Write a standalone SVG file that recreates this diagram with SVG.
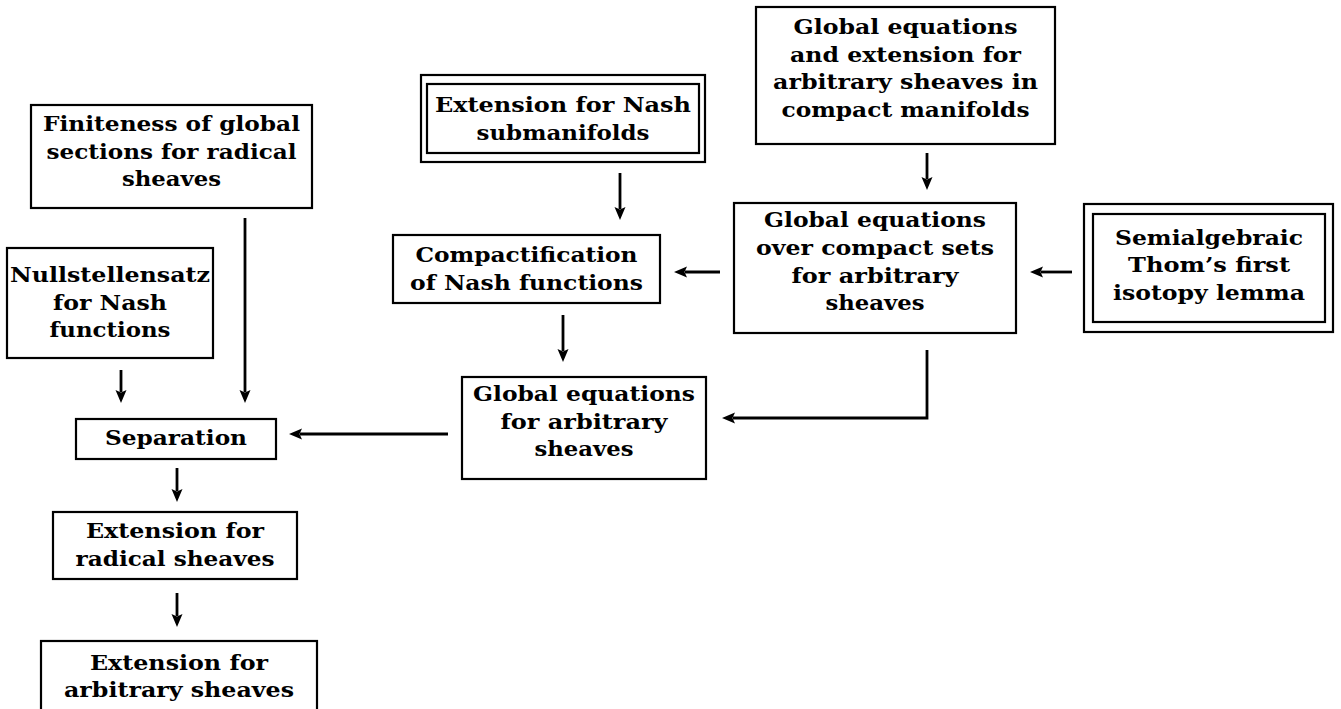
<svg xmlns="http://www.w3.org/2000/svg" width="1341" height="709" viewBox="0 0 1341 709">
<style>
.box{fill:#fff;stroke:#000;stroke-width:2.2}
.t{font-family:"DejaVu Serif","Liberation Serif",serif;font-weight:bold;font-size:20px;fill:#000;text-anchor:middle}
.c{fill:none;stroke:#000;stroke-width:2.8}
</style>
<defs>
<marker id="ah" markerUnits="userSpaceOnUse" markerWidth="14" markerHeight="12" viewBox="0 0 14 12" refX="2" refY="6" orient="auto">
<path d="M0,0.5 L13,6 L0,11.5 L2.5,6 z" fill="#000"/>
</marker>
</defs>
<rect width="1341" height="709" fill="#fff"/>
<g id="finiteness">
<rect class="box" x="31" y="105" width="281" height="103"/>
<text class="t" x="171.5" y="131" textLength="257" lengthAdjust="spacingAndGlyphs">Finiteness of global</text>
<text class="t" x="171.5" y="158.5" textLength="250" lengthAdjust="spacingAndGlyphs">sections for radical</text>
<text class="t" x="171.5" y="186" textLength="99" lengthAdjust="spacingAndGlyphs">sheaves</text>
</g>
<g id="nullstellensatz">
<rect class="box" x="7" y="248" width="206" height="110"/>
<text class="t" x="110" y="282" textLength="200" lengthAdjust="spacingAndGlyphs">Nullstellensatz</text>
<text class="t" x="110" y="309.5" textLength="114" lengthAdjust="spacingAndGlyphs">for Nash</text>
<text class="t" x="110" y="337" textLength="121" lengthAdjust="spacingAndGlyphs">functions</text>
</g>
<g id="separation">
<rect class="box" x="76" y="419" width="200" height="40"/>
<text class="t" x="176" y="445" textLength="142" lengthAdjust="spacingAndGlyphs">Separation</text>
</g>
<g id="extrad">
<rect class="box" x="53" y="512" width="244" height="67"/>
<text class="t" x="175" y="538" textLength="178" lengthAdjust="spacingAndGlyphs">Extension for</text>
<text class="t" x="175" y="566" textLength="199" lengthAdjust="spacingAndGlyphs">radical sheaves</text>
</g>
<g id="extarb">
<rect class="box" x="41" y="641" width="276" height="78"/>
<text class="t" x="179" y="670" textLength="178" lengthAdjust="spacingAndGlyphs">Extension for</text>
<text class="t" x="179" y="697" textLength="230" lengthAdjust="spacingAndGlyphs">arbitrary sheaves</text>
</g>
<g id="extnash">
<rect class="box" x="421" y="75" width="284" height="87"/>
<rect class="box" x="427" y="84" width="272" height="69"/>
<text class="t" x="563" y="112" textLength="256" lengthAdjust="spacingAndGlyphs">Extension for Nash</text>
<text class="t" x="563" y="140" textLength="173" lengthAdjust="spacingAndGlyphs">submanifolds</text>
</g>
<g id="compactification">
<rect class="box" x="393" y="235" width="267" height="68"/>
<text class="t" x="526.5" y="262" textLength="222" lengthAdjust="spacingAndGlyphs">Compactification</text>
<text class="t" x="526.5" y="290" textLength="233" lengthAdjust="spacingAndGlyphs">of Nash functions</text>
</g>
<g id="globaltop">
<rect class="box" x="756" y="7" width="299" height="137"/>
<text class="t" x="905.5" y="34" textLength="224" lengthAdjust="spacingAndGlyphs">Global equations</text>
<text class="t" x="905.5" y="61.5" textLength="231" lengthAdjust="spacingAndGlyphs">and extension for</text>
<text class="t" x="905.5" y="89" textLength="265" lengthAdjust="spacingAndGlyphs">arbitrary sheaves in</text>
<text class="t" x="905.5" y="116.5" textLength="248" lengthAdjust="spacingAndGlyphs">compact manifolds</text>
</g>
<g id="globalcompact">
<rect class="box" x="734" y="203" width="282" height="130"/>
<text class="t" x="875" y="227" textLength="222" lengthAdjust="spacingAndGlyphs">Global equations</text>
<text class="t" x="875" y="255" textLength="238" lengthAdjust="spacingAndGlyphs">over compact sets</text>
<text class="t" x="875" y="283" textLength="167" lengthAdjust="spacingAndGlyphs">for arbitrary</text>
<text class="t" x="875" y="310" textLength="99" lengthAdjust="spacingAndGlyphs">sheaves</text>
</g>
<g id="semialgebraic">
<rect class="box" x="1084" y="204" width="249" height="128"/>
<rect class="box" x="1093" y="214" width="232" height="108"/>
<text class="t" x="1209" y="245" textLength="188" lengthAdjust="spacingAndGlyphs">Semialgebraic</text>
<text class="t" x="1209" y="272" textLength="162" lengthAdjust="spacingAndGlyphs">Thom’s first</text>
<text class="t" x="1209" y="300" textLength="192" lengthAdjust="spacingAndGlyphs">isotopy lemma</text>
</g>
<g id="globalarb">
<rect class="box" x="462" y="377" width="244" height="102"/>
<text class="t" x="584" y="401" textLength="222" lengthAdjust="spacingAndGlyphs">Global equations</text>
<text class="t" x="584" y="428.5" textLength="167" lengthAdjust="spacingAndGlyphs">for arbitrary</text>
<text class="t" x="584" y="456" textLength="99" lengthAdjust="spacingAndGlyphs">sheaves</text>
</g>
<g id="connectors">
<path class="c" marker-end="url(#ah)" d="M245,218 V392"/>
<path class="c" marker-end="url(#ah)" d="M121,370 V392"/>
<path class="c" marker-end="url(#ah)" d="M177,468 V491"/>
<path class="c" marker-end="url(#ah)" d="M177,593 V616"/>
<path class="c" marker-end="url(#ah)" d="M620,173 V209"/>
<path class="c" marker-end="url(#ah)" d="M563,315 V351"/>
<path class="c" marker-end="url(#ah)" d="M927,153 V179"/>
<path class="c" marker-end="url(#ah)" d="M1072,272 H1041"/>
<path class="c" marker-end="url(#ah)" d="M720,272 H685"/>
<path class="c" marker-end="url(#ah)" d="M927,350 V418 H733"/>
<path class="c" marker-end="url(#ah)" d="M448,434 H300"/>
</g>
</svg>
